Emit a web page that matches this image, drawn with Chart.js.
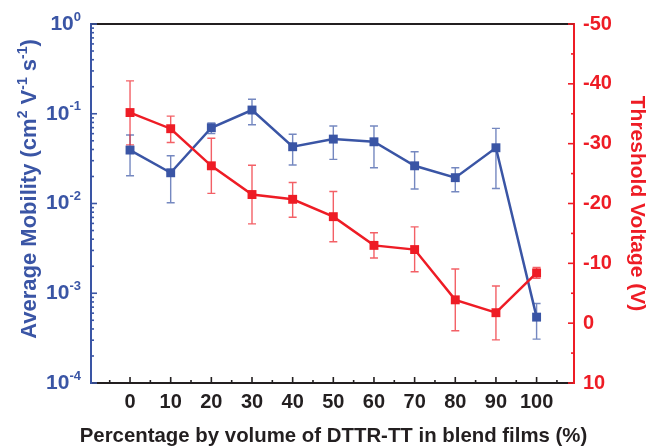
<!DOCTYPE html>
<html><head><meta charset="utf-8">
<script src="https://cdn.jsdelivr.net/npm/chart.js@4/dist/chart.umd.min.js"></script>
<style>html,body{margin:0;padding:0;background:#fff}</style>
</head><body>
<canvas id="c" width="649" height="447" style="display:block;width:649px;height:447px"></canvas>
<script>
// ---- data ----
const percentages = [0, 10, 20, 30, 40, 50, 60, 70, 80, 90, 100];
const xTickLabels = ['0', '10', '20', '30', '40', '50', '60', '70', '80', '90', '100'];
const mobility     = [0.0394, 0.022, 0.0698, 0.110, 0.0429, 0.0522, 0.0487, 0.0263, 0.0194, 0.0418, 0.000542];
const mobilityHigh = [0.058, 0.034, 0.079, 0.145, 0.059, 0.073, 0.073, 0.0377, 0.025, 0.0687, 0.00077];
const mobilityLow  = [0.0204, 0.0102, 0.060, 0.0755, 0.0268, 0.031, 0.025, 0.0145, 0.0135, 0.0147, 0.000308];
const threshold     = [-35.2, -32.5, -26.3, -21.5, -20.7, -17.8, -13.0, -12.3, -3.9, -1.75, -8.4];
const thresholdHigh = [-40.5, -34.6, -30.9, -26.4, -23.5, -22.0, -15.1, -16.1, -9.05, -6.2, -9.3];
const thresholdLow  = [-29.8, -30.2, -21.7, -16.6, -17.7, -13.6, -10.9, -8.6, 1.26, 2.8, -7.5];
const mobilityTicks = [1e-4, 1e-3, 1e-2, 1e-1, 1];
const mobilityExponents = ['-4', '-3', '-2', '-1', '0'];
const voltageTicks = [-50, -40, -30, -20, -10, 0, 10];
const xTitle = 'Percentage by volume of DTTR-TT in blend films (%)';

const BLUE = '#3a55a5';
const RED = '#ee1c25';
const BLACK = '#231f20';
const FONT = '"Liberation Sans", Arial, Helvetica, sans-serif';

const decorPlugin = {
  id: 'decor',
  beforeDatasetsDraw(chart) {
    const ctx = chart.ctx;
    const xs = chart.scales.x, ys = chart.scales.y, yr = chart.scales.y1;
    ctx.save();
    ctx.lineWidth = 1.4;
    const cap = 4;
    function bar(x, y1, y2, color) {
      ctx.strokeStyle = color;
      ctx.beginPath();
      ctx.moveTo(x, y1); ctx.lineTo(x, y2);
      ctx.moveTo(x - cap, y1); ctx.lineTo(x + cap, y1);
      ctx.moveTo(x - cap, y2); ctx.lineTo(x + cap, y2);
      ctx.stroke();
    }
    percentages.forEach((p, i) => {
      const x = xs.getPixelForValue(p);
      bar(x, ys.getPixelForValue(mobilityHigh[i]), ys.getPixelForValue(mobilityLow[i]), 'rgba(58,85,165,0.7)');
      bar(x, yr.getPixelForValue(thresholdHigh[i]), yr.getPixelForValue(thresholdLow[i]), 'rgba(238,28,37,0.7)');
    });
    ctx.restore();
  },
  afterDraw(chart) {
    const ctx = chart.ctx;
    const a = chart.chartArea;
    const xs = chart.scales.x, ys = chart.scales.y, yr = chart.scales.y1;
    ctx.save();
    // top frame line
    ctx.strokeStyle = BLACK; ctx.lineWidth = 2;
    ctx.beginPath(); ctx.moveTo(a.left, a.top); ctx.lineTo(a.right, a.top); ctx.stroke();
    // bottom ticks (inward)
    ctx.lineWidth = 1.6;
    for (let v = -5; v <= 105; v += 5) {
      const x = xs.getPixelForValue(v);
      const len = (v % 10 === 0) ? 6 : 3;
      ctx.beginPath(); ctx.moveTo(x, a.bottom); ctx.lineTo(x, a.bottom - len); ctx.stroke();
    }
    // x axis title
    ctx.fillStyle = BLACK;
    ctx.font = 'bold 20.4px ' + FONT;
    ctx.textAlign = 'center';
    ctx.textBaseline = 'middle';
    ctx.fillText(xTitle, (a.left + a.right) / 2 + 1, 436);
    // left ticks (inward)
    ctx.strokeStyle = BLUE;
    for (let d = -4; d <= 0; d++) {
      const y = ys.getPixelForValue(Math.pow(10, d));
      ctx.beginPath(); ctx.moveTo(a.left, y); ctx.lineTo(a.left + 6, y); ctx.stroke();
      if (d < 0) {
        for (let k = 2; k <= 9; k++) {
          const ym = ys.getPixelForValue(k * Math.pow(10, d));
          ctx.beginPath(); ctx.moveTo(a.left, ym); ctx.lineTo(a.left + 3, ym); ctx.stroke();
        }
      }
    }
    // right ticks (inward)
    ctx.strokeStyle = RED;
    for (let v = -50; v <= 10; v += 5) {
      const y = yr.getPixelForValue(v);
      const len = (v % 10 === 0) ? 6 : 3;
      ctx.beginPath(); ctx.moveTo(a.right, y); ctx.lineTo(a.right - len, y); ctx.stroke();
    }
    // left tick labels with superscripts
    ctx.fillStyle = BLUE;
    ctx.textBaseline = 'middle';
    mobilityTicks.forEach((v, i) => {
      const y = ys.getPixelForValue(v);
      const xEnd = 81;
      ctx.font = 'bold 13px ' + FONT;
      const sw = ctx.measureText(mobilityExponents[i]).width;
      ctx.textAlign = 'left';
      ctx.fillText(mobilityExponents[i], xEnd - sw, y - 7);
      ctx.font = 'bold 21px ' + FONT;
      ctx.textAlign = 'right';
      ctx.fillText('10', xEnd - sw, y);
    });
    // left axis title with superscripts
    const segs = [
      ['Average Mobility (cm', false], ['2', true], [' V', false], ['-1', true],
      [' s', false], ['-1', true], [')', false]
    ];
    const mainF = 'bold 22px ' + FONT, supF = 'bold 14px ' + FONT;
    let total = 0;
    segs.forEach(s => { ctx.font = s[1] ? supF : mainF; total += ctx.measureText(s[0]).width; });
    ctx.translate(36, 189);
    ctx.rotate(-Math.PI / 2);
    ctx.textAlign = 'left';
    ctx.textBaseline = 'alphabetic';
    let cx = -total / 2;
    segs.forEach(s => {
      ctx.font = s[1] ? supF : mainF;
      ctx.fillText(s[0], cx, s[1] ? -9 : 0);
      cx += ctx.measureText(s[0]).width;
    });
    ctx.restore();
  }
};

new Chart(document.getElementById('c'), {
  type: 'line',
  data: {
    datasets: [
      {
        label: 'Threshold Voltage',
        data: percentages.map((p, i) => ({ x: p, y: threshold[i] })),
        yAxisID: 'y1',
        borderColor: RED, backgroundColor: RED,
        borderWidth: 2.5, pointStyle: 'rect', pointRadius: 6.3, pointBorderWidth: 0,
        pointBackgroundColor: RED, tension: 0, order: 0
      },
      {
        label: 'Average Mobility',
        data: percentages.map((p, i) => ({ x: p, y: mobility[i] })),
        yAxisID: 'y',
        borderColor: BLUE, backgroundColor: BLUE,
        borderWidth: 2.5, pointStyle: 'rect', pointRadius: 6.3, pointBorderWidth: 0,
        pointBackgroundColor: BLUE, tension: 0, order: 1
      }
    ]
  },
  options: {
    responsive: false,
    animation: false,
    devicePixelRatio: 1,
    layout: { padding: { top: 24, left: 0, right: 0, bottom: 0 } },
    plugins: { legend: { display: false }, tooltip: { enabled: false } },
    scales: {
      x: {
        type: 'linear', position: 'bottom', min: -9.6, max: 109.2,
        grid: { display: false, drawTicks: false },
        border: { display: true, color: BLACK, width: 2 },
        afterBuildTicks(scale) { scale.ticks = percentages.map(v => ({ value: v })); },
        afterFit(scale) { scale.height = 64; },
        ticks: {
          autoSkip: false, maxRotation: 0, padding: 7, color: BLACK,
          font: { family: FONT, size: 20, weight: 'bold' },
          callback: (v, i) => xTickLabels[i]
        },
        title: { display: false }
      },
      y: {
        type: 'logarithmic', position: 'left', min: 1e-4, max: 1,
        grid: { display: false, drawTicks: false },
        border: { display: true, color: BLUE, width: 2 },
        afterBuildTicks(scale) { scale.ticks = mobilityTicks.map(v => ({ value: v })); },
        afterFit(scale) { scale.width = 91; },
        ticks: { display: false }
      },
      y1: {
        type: 'linear', position: 'right', min: -50, max: 10, reverse: true,
        grid: { display: false, drawTicks: false },
        border: { display: true, color: RED, width: 2 },
        afterBuildTicks(scale) { scale.ticks = voltageTicks.map(v => ({ value: v })); },
        afterFit(scale) { scale.width = 75; },
        ticks: {
          padding: 9, color: RED,
          font: { family: FONT, size: 20, weight: 'bold' }
        },
        title: {
          display: true, text: 'Threshold Voltage (V)', color: RED,
          font: { family: FONT, size: 21, weight: 'bold' },
          padding: { top: 0, bottom: 0 }
        }
      }
    }
  },
  plugins: [decorPlugin]
});
</script>
</body></html>
